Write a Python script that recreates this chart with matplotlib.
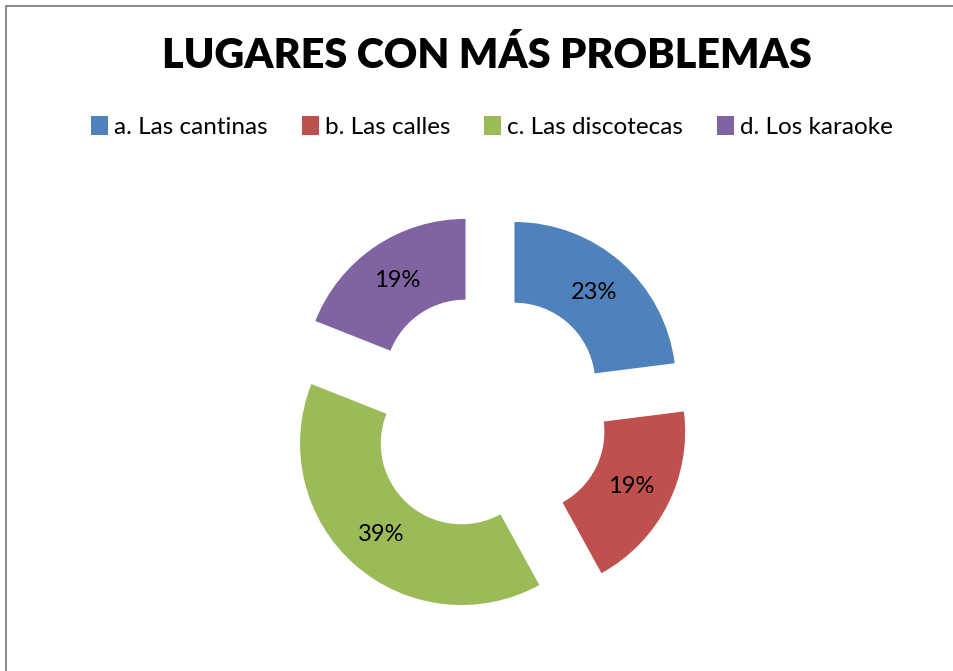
import matplotlib
matplotlib.use('Agg')
import matplotlib.pyplot as plt
from matplotlib.patches import Rectangle

plt.rcParams['font.family'] = ['Lato', 'DejaVu Sans']

categories = ['a. Las cantinas', 'b. Las calles', 'c. Las discotecas', 'd. Los karaoke']
values = [23, 19, 39, 19]
colors = ['#4F81BD', '#C0504D', '#9BBB59', '#8064A2']

W, H = 954, 671
fig = plt.figure(figsize=(W / 100, H / 100), dpi=100)
ax = fig.add_axes([0, 0, 1, 1])

# pixel-like data coords, y going up
cx, cy, R = 488, H - 413.5, 161.5
wedges, texts, autotexts = ax.pie(
    values, colors=colors, startangle=90, counterclock=False,
    center=(cx, cy), radius=R, explode=[40] * 4,
    autopct='%1.0f%%', pctdistance=0.75,
    wedgeprops=dict(width=R * 0.5, linewidth=0),
    textprops=dict(fontsize=17, color='black'))
ax.set_xlim(0, W)
ax.set_ylim(0, H)
ax.set_aspect('equal')
ax.axis('off')

# chart border (cut off at right and bottom)
fig.patches.append(Rectangle((6.5 / W, -0.1), 1.2, (H - 5.5) / H + 0.1,
                             transform=fig.transFigure, fill=False,
                             edgecolor='#8c8c8c', linewidth=1.5))

fig.text(487 / W, 1 - 56 / H, 'LUGARES CON MÁS PROBLEMAS', ha='center', va='center',
         fontsize=29.7, fontweight='heavy')

leg = fig.legend(wedges, categories, loc='center', bbox_to_anchor=(492 / W, 1 - 127 / H),
                 ncol=4, frameon=False, fontsize=17.5, handlelength=0.7, handleheight=0.8,
                 handletextpad=0.25, columnspacing=1.4)

fig.savefig('out.png', dpi=100)
